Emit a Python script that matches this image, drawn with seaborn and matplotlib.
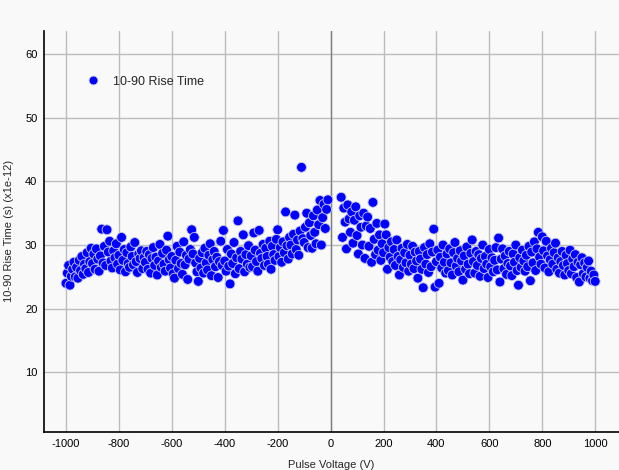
import numpy as np
import pandas as pd
import matplotlib
matplotlib.use('Agg')
import matplotlib.pyplot as plt
import seaborn as sns

# 负电压一侧: -1000 .. -10 V, 步长 5 V
neg_voltage = np.arange(-1000, -5, 5)
neg_rise = [
    24.0, 25.6, 26.8, 23.7, 25.1, 26.2, 27.3, 25.0, 26.5, 24.8, 27.6, 26.0, 28.2, 25.4, 27.0, 26.3, 28.8, 25.7, 27.4, 29.5,
    27.1, 28.6, 26.2, 29.4, 27.8, 25.9, 28.3, 32.5, 27.2, 29.8, 26.8, 32.4, 28.9, 30.6, 27.5, 26.4, 29.1, 28.0, 30.2, 27.0,
    28.4, 26.1, 31.2, 27.6, 29.3, 25.8, 28.8, 27.1, 26.5, 29.7, 28.2, 26.9, 30.4, 27.4, 25.7, 28.6, 27.9, 29.1, 26.3, 28.0,
    27.3, 29.0, 26.2, 28.5, 25.6, 27.9, 29.6, 26.8, 28.1, 25.3, 27.5, 30.1, 26.5, 28.7, 27.0, 25.9, 29.2, 31.4, 27.7, 26.4,
    28.2, 25.5, 24.8, 27.6, 29.8, 26.3, 28.9, 27.1, 25.4, 30.5, 26.9, 28.4, 24.6, 27.8, 29.3, 32.4, 28.6, 31.2, 27.2, 25.8,
    24.3, 27.9, 26.4, 28.8, 25.6, 29.5, 27.2, 26.1, 28.4, 30.2, 25.2, 27.7, 29.0, 26.6, 28.1, 24.9, 27.4, 30.6, 26.8, 32.3,
    27.5, 25.9, 29.3, 26.7, 23.9, 28.6, 27.1, 30.4, 25.5, 28.0, 33.8, 26.3, 29.0, 27.8, 31.6, 25.8, 28.5, 27.0, 29.9, 26.5,
    28.3, 26.6, 31.9, 29.2, 27.4, 25.9, 32.3, 28.7, 27.9, 30.1, 26.8, 29.5, 28.2, 27.0, 30.6, 26.2, 29.8, 28.5, 27.6, 30.9,
    32.4, 28.2, 29.6, 27.3, 30.5, 28.8, 35.2, 29.9, 27.8, 31.2, 30.0, 28.6, 31.7, 34.7, 29.3, 30.8, 28.4, 32.2, 42.2, 31.0,
    30.4, 32.8, 35.0, 29.6, 33.5, 31.5, 29.5, 34.6, 32.0, 30.2, 35.5, 33.2, 37.0, 30.0, 34.3, 36.4, 32.6, 35.6, 37.1,
]

# 正电压一侧: 40 .. 1000 V, 步长 5 V
pos_voltage = np.arange(40, 1005, 5)
pos_rise = [
    37.5, 31.2, 35.8, 33.6, 29.4, 36.3, 34.1, 32.0, 35.2, 30.3, 33.9, 36.0, 31.5, 28.6, 34.6, 32.8, 30.0, 35.0, 27.9, 33.0,
    34.4, 29.8, 32.6, 27.3, 36.7, 30.9, 28.5, 33.4, 29.2, 31.6, 27.6, 30.2, 28.8, 33.3, 31.6, 26.2, 29.6, 28.1, 30.5, 27.4,
    29.3, 26.8, 30.8, 28.2, 25.3, 27.7, 29.5, 26.5, 28.8, 27.2, 30.1, 25.9, 28.4, 27.0, 29.8, 26.3, 28.9, 27.5, 24.8, 29.0,
    27.8, 26.2, 23.3, 29.6, 27.0, 28.5, 25.7, 30.2, 26.6, 28.9, 32.5, 23.4, 27.4, 29.2, 24.0, 28.1, 26.4, 30.0, 27.3, 25.6,
    28.6, 26.0, 29.4, 27.2, 25.3, 28.8, 30.4, 26.7, 27.9, 25.8, 29.1, 27.5, 24.5, 28.3, 26.2, 29.7, 27.0, 25.5, 28.7, 30.8,
    27.4, 25.6, 29.0, 26.8, 28.5, 25.1, 27.9, 30.0, 26.3, 28.2, 27.0, 24.9, 29.3, 26.6, 28.0, 25.8, 27.6, 29.6, 26.1, 31.1,
    24.2, 27.8, 29.4, 26.3, 28.3, 25.4, 27.1, 29.0, 26.7, 25.2, 28.6, 27.3, 30.0, 26.0, 23.7, 28.0, 26.5, 29.2, 27.5, 25.9,
    28.4, 26.6, 29.8, 24.4, 28.9, 27.2, 30.5, 26.0, 29.4, 32.0, 28.1, 27.0, 31.3, 29.1, 26.4, 30.6, 28.3, 25.8, 27.7, 29.5,
    27.0, 28.8, 30.3, 26.2, 28.0, 25.6, 27.4, 29.0, 26.8, 25.3, 28.4, 27.1, 26.0, 29.2, 25.5, 27.8, 26.6, 28.5, 24.9, 27.3,
    24.2, 26.9, 28.0, 25.5, 27.2, 25.0, 26.5, 27.5, 24.8, 25.9, 24.4, 25.3, 24.3,
]

x_ticks = list(range(-1000, 1001, 200))
y_ticks = [10, 20, 30, 40, 50, 60]
series_name = '10-90 Rise Time'

df = pd.DataFrame({
    'voltage': np.concatenate([neg_voltage, pos_voltage]),
    'rise': neg_rise + pos_rise,
})
df['series'] = series_name

bg = '#f9f9f9'
sns.set_theme(style='white')
plt.rcParams['font.family'] = ['Liberation Sans', 'DejaVu Sans']
plt.rcParams['axes.unicode_minus'] = False

fig = plt.figure(figsize=(6.19, 4.70), dpi=100, facecolor=bg)
ax = fig.add_axes([44.3 / 619, 1 - 431.7 / 470, 1 - 44.3 / 619, (431.7 - 31) / 470])
ax.set_facecolor(bg)

ax.set_xlim(-1082, 1090)
ax.set_ylim(0.7, 63.6)
ax.set_xticks(x_ticks)
ax.set_yticks(y_ticks)
ax.grid(True, color='#bcbcbc', linewidth=1)
ax.set_axisbelow(True)
ax.axvline(0, color='#808080', linewidth=1, zorder=1)

sns.scatterplot(data=df, x='voltage', y='rise', hue='series', palette=['#0000ff'],
                s=50, edgecolor='#c8c8e6', linewidth=0.6, ax=ax, zorder=3)

for side in ['top', 'right']:
    ax.spines[side].set_visible(False)
for side in ['left', 'bottom']:
    ax.spines[side].set_color('black')
    ax.spines[side].set_linewidth(1.2)

ax.tick_params(axis='both', length=0, pad=5, labelsize=8, colors='black')
ax.set_xlabel('Pulse Voltage (V)', fontsize=8, labelpad=8)
ax.set_ylabel('10-90 Rise Time (s) (x1e-12)', fontsize=8, labelpad=8)

leg = ax.legend(loc='upper left', bbox_to_anchor=(0.044, 0.917), frameon=False,
                fontsize=9, handletextpad=0.6, markerscale=0.9)

fig.savefig('out.png', dpi=100, facecolor=bg)
